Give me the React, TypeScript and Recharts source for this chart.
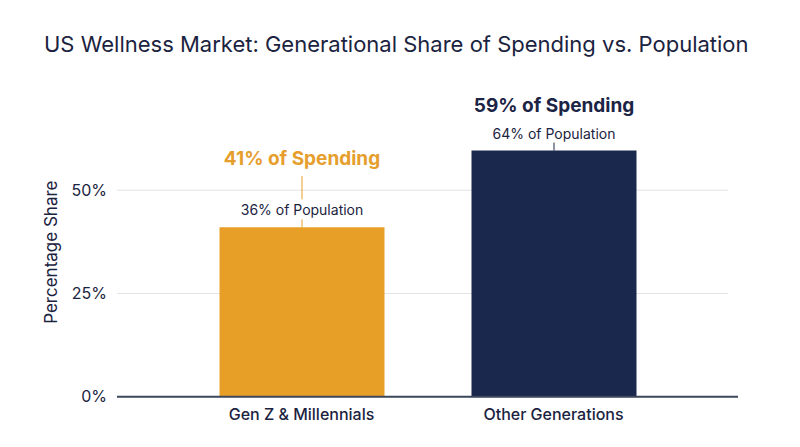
import React from 'react';
import { BarChart, Bar, XAxis, YAxis, CartesianGrid, Cell, LabelList } from 'recharts';

const categories = ['Gen Z & Millennials', 'Other Generations'];
const spendingShare = [41, 59.6];
const spendingLabels = ['41% of Spending', '59% of Spending'];
const populationLabels = ['36% of Population', '64% of Population'];
const yTicks = [0, 25, 50];
const colors = ['#E89F27', '#1A284D'];
const labelColors = ['#E69E2C', '#1B2444'];

const data = categories.map((name, i) => ({ name, value: spendingShare[i] }));

const FONT = 'Inter, "Noto Sans", sans-serif';
const TEXT = '#1B2340';
const SPEND_OFFSET = [62, 39];

const BarAnnotation = (props: any) => {
  const { x, y, width, index } = props;
  const cx = x + width / 2;
  const popBase = y - 12;
  const spendBase = y - SPEND_OFFSET[index];
  const lineTop = spendBase + 10.5;
  const lineBottom = popBase - 16;
  return (
    <g>
      <line x1={cx} x2={cx} y1={y - 8} y2={y} stroke={colors[index]} strokeWidth={1} />
      {lineBottom - lineTop > 4 && (
        <line x1={cx} x2={cx} y1={lineTop} y2={lineBottom} stroke={colors[index]} strokeWidth={1} />
      )}
      <text x={cx} y={popBase} textAnchor="middle" fontFamily={FONT} fontSize={14} fill={TEXT}>
        {populationLabels[index]}
      </text>
      <text x={cx} y={spendBase} textAnchor="middle" fontFamily={FONT} fontSize={19} fontWeight={700} fill={labelColors[index]}>
        {spendingLabels[index]}
      </text>
    </g>
  );
};

const YLabel = (props: any) => {
  const vb = props.viewBox || {};
  const cy = vb.y + vb.height / 2;
  return (
    <text x={57} y={cy} transform={`rotate(-90, 57, ${cy})`} textAnchor="middle" fontFamily={FONT} fontSize={17} fill={TEXT}>
      Percentage Share
    </text>
  );
};

const GridLine = (p: any) => (
  <line
    key={p.key ?? `${p.y1}`}
    x1={p.x1}
    x2={p.x2 - 10}
    y1={p.y1}
    y2={p.y2}
    stroke="#E2E2E2"
    strokeWidth={1}
  />
);

export default function App() {
  return (
    <div style={{ position: 'absolute', left: 0, top: 0, width: 800, height: 447, background: '#fff' }}>
      <svg width={800} height={60} style={{ position: 'absolute', left: 0, top: 0 }}>
        <text x={44} y={52.3} fontFamily={FONT} fontSize={22} fill={TEXT}>
          US Wellness Market: Generational Share of Spending vs. Population
        </text>
      </svg>
      <div style={{ position: 'absolute', left: 0, top: 0 }}>
        <BarChart
          width={800}
          height={447}
          data={data}
          margin={{ top: 107.6, right: 62, left: 57, bottom: 20.3 }}
          style={{ fontFamily: FONT }}
        >
          <CartesianGrid vertical={false} horizontalValues={yTicks} horizontal={GridLine} />
          <XAxis
            dataKey="name"
            height={30}
            tickLine={false}
            axisLine={{ stroke: '#3C475C', strokeWidth: 2 }}
            padding={{ left: 58.5, right: 58.5 }}
            tickMargin={6}
            tick={{ fill: TEXT, fontSize: 16, fontWeight: 500, fontFamily: FONT }}
          />
          <YAxis
            width={60}
            domain={[0, 70]}
            ticks={yTicks}
            tickFormatter={(v: number) => `${v}%`}
            tickLine={false}
            axisLine={false}
            tickMargin={4}
            tick={{ fill: TEXT, fontSize: 16, fontFamily: FONT }}
            label={<YLabel />}
          />
          <Bar dataKey="value" barSize={165} isAnimationActive={false}>
            {data.map((d, i) => (
              <Cell key={d.name} fill={colors[i]} />
            ))}
            <LabelList dataKey="value" content={<BarAnnotation />} />
          </Bar>
        </BarChart>
      </div>
    </div>
  );
}
